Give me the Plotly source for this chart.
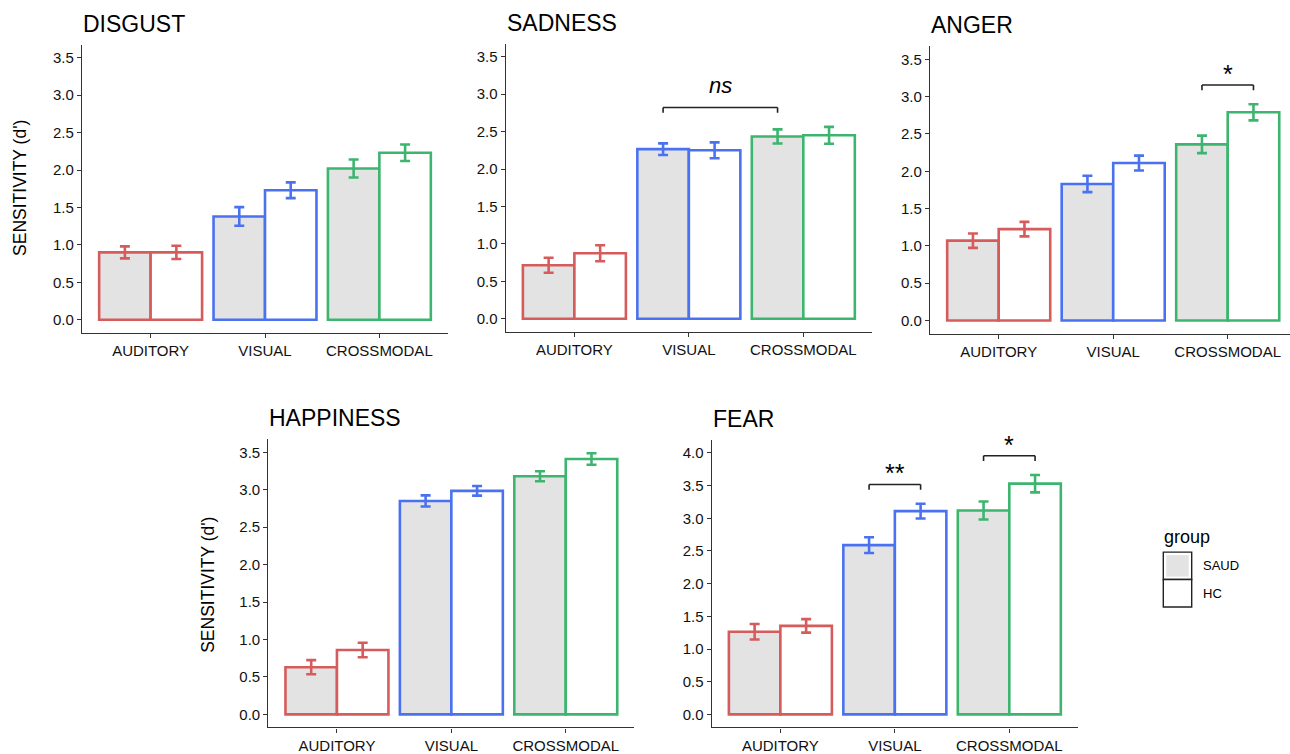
import plotly.graph_objects as go

# ---- data -------------------------------------------------------------
categories = ["AUDITORY", "VISUAL", "CROSSMODAL"]
groups = ["SAUD", "HC"]
emotions = ["DISGUST", "SADNESS", "ANGER", "HAPPINESS", "FEAR"]

disgust_saud = [0.90, 1.38, 2.02]
disgust_saud_se = [0.080, 0.125, 0.120]
disgust_hc = [0.90, 1.73, 2.23]
disgust_hc_se = [0.088, 0.105, 0.110]

sadness_saud = [0.715, 2.265, 2.435]
sadness_saud_se = [0.100, 0.078, 0.095]
sadness_hc = [0.875, 2.250, 2.450]
sadness_hc_se = [0.106, 0.106, 0.113]

anger_saud = [1.07, 1.83, 2.36]
anger_saud_se = [0.097, 0.110, 0.117]
anger_hc = [1.225, 2.11, 2.79]
anger_hc_se = [0.097, 0.100, 0.108]

happiness_saud = [0.63, 2.85, 3.18]
happiness_saud_se = [0.095, 0.075, 0.066]
happiness_hc = [0.86, 2.985, 3.41]
happiness_hc_se = [0.097, 0.064, 0.077]

fear_saud = [1.265, 2.59, 3.12]
fear_saud_se = [0.118, 0.121, 0.138]
fear_hc = [1.355, 3.11, 3.53]
fear_hc_se = [0.103, 0.113, 0.133]

y_max = [3.5, 3.5, 3.5, 3.5, 4.0]

# significance comparisons: (emotion, (category, group), (category, group), label)
comparisons = [
    ("SADNESS", ("VISUAL", "SAUD"), ("CROSSMODAL", "SAUD"), "ns"),
    ("ANGER", ("CROSSMODAL", "SAUD"), ("CROSSMODAL", "HC"), "*"),
    ("FEAR", ("VISUAL", "SAUD"), ("VISUAL", "HC"), "**"),
    ("FEAR", ("CROSSMODAL", "SAUD"), ("CROSSMODAL", "HC"), "*"),
]

values = {
    "DISGUST": {"SAUD": (disgust_saud, disgust_saud_se), "HC": (disgust_hc, disgust_hc_se)},
    "SADNESS": {"SAUD": (sadness_saud, sadness_saud_se), "HC": (sadness_hc, sadness_hc_se)},
    "ANGER": {"SAUD": (anger_saud, anger_saud_se), "HC": (anger_hc, anger_hc_se)},
    "HAPPINESS": {"SAUD": (happiness_saud, happiness_saud_se), "HC": (happiness_hc, happiness_hc_se)},
    "FEAR": {"SAUD": (fear_saud, fear_saud_se), "HC": (fear_hc, fear_hc_se)},
}

# ---- styling / layout -------------------------------------------------
W, H = 1290, 754
FONT = "Liberation Sans, Arial, sans-serif"
cat_colors = {"AUDITORY": "#D65C5C", "VISUAL": "#4A72F0", "CROSSMODAL": "#3DB56F"}
group_fill = {"SAUD": "#E3E3E3", "HC": "#FFFFFF"}
AXIS_COL = "#333333"
BARGAP = 0.1

# plot boxes in pixels: (left, top, right, bottom), x range right end
panel_box = {
    "DISGUST": ((82, 45, 448, 336), 2.6),
    "SADNESS": ((505.7, 44, 872, 335), 2.6),
    "ANGER": ((930, 46.7, 1290, 336.7), 2.544),
    "HAPPINESS": ((268.3, 443.3, 634.4, 734.3), 2.6),
    "FEAR": ((711.7, 444, 1078, 734.3), 2.6),
}
ytitle_pos = {"DISGUST": (20.7, 190), "HAPPINESS": (207.3, 590)}


def fx(p):
    return p / W


def fy(p):
    return 1 - p / H


fig = go.Figure()
layout = dict(
    width=W, height=H, margin=dict(l=0, r=0, t=0, b=0),
    paper_bgcolor="white", plot_bgcolor="white",
    barmode="group", bargap=BARGAP, bargroupgap=0,
    showlegend=False, font=dict(family=FONT, color="#111111"),
)
annotations = []
shapes = []

half = (1 - BARGAP) / 4  # distance from category centre to each bar centre

for i, emo in enumerate(emotions):
    n = "" if i == 0 else str(i + 1)
    xa, ya = "x" + n, "y" + n
    (l, t, r, b), xr = panel_box[emo]
    top = y_max[i]
    for g in groups:
        means, ses = values[emo][g]
        for c, m, s in zip(categories, means, ses):
            fig.add_trace(go.Bar(
                x=[c], y=[m], xaxis=xa, yaxis=ya, offsetgroup=g, name=g,
                marker=dict(color=group_fill[g], line=dict(color=cat_colors[c], width=2.6)),
                error_y=dict(type="data", array=[s], color=cat_colors[c], thickness=2.6, width=5),
                hoverinfo="skip",
            ))
    layout["xaxis" + n] = dict(
        domain=[fx(l), fx(r)], anchor=ya, type="category", categoryorder="array",
        categoryarray=categories, range=[-0.6, xr], showline=True, linecolor=AXIS_COL,
        linewidth=1.2, ticks="outside", ticklen=4, tickcolor=AXIS_COL, tickwidth=1,
        showgrid=False, zeroline=False, tickfont=dict(size=15, color="#111111", family=FONT),
    )
    layout["yaxis" + n] = dict(
        domain=[fy(b), fy(t)], anchor=xa, range=[-0.05 * top, 1.05 * top],
        tick0=0, dtick=0.5, tickformat=".1f", showline=True, linecolor=AXIS_COL,
        linewidth=1.2, ticks="outside", ticklen=4, tickcolor=AXIS_COL, tickwidth=1,
        showgrid=False, zeroline=False, tickfont=dict(size=15, color="#111111", family=FONT),
    )
    # panel title
    annotations.append(dict(
        text=emo, x=fx(l - 1), y=fy(t - 21), xref="paper", yref="paper",
        xanchor="left", yanchor="middle", showarrow=False,
        font=dict(size=23, color="black", family=FONT),
    ))
    if emo in ytitle_pos:
        px, py = ytitle_pos[emo]
        annotations.append(dict(
            text="SENSITIVITY (d')", x=fx(px), y=fy(py), xref="paper", yref="paper",
            textangle=-90, showarrow=False, xanchor="center", yanchor="middle",
            font=dict(size=17.5, color="black", family=FONT),
        ))

# significance brackets
for emo, (c0, g0), (c1, g1), label in comparisons:
    i = emotions.index(emo)
    n = "" if i == 0 else str(i + 1)
    span = 1.1 * y_max[i]
    k0, k1 = categories.index(c0), categories.index(c1)
    x0 = k0 + (-half if g0 == "SAUD" else half)
    x1 = k1 + (-half if g1 == "SAUD" else half)
    tops = []
    for g in groups:
        means, ses = values[emo][g]
        tops += [means[k] + ses[k] for k in range(k0, k1 + 1)]
    yb = max(tops) + 0.067 * span
    leg = 0.018 * span
    for (ax0, ay0, ax1, ay1) in [(x0, yb - leg, x0, yb), (x0, yb, x1, yb), (x1, yb, x1, yb - leg)]:
        shapes.append(dict(type="line", xref="x" + n, yref="y" + n, x0=ax0, y0=ay0,
                           x1=ax1, y1=ay1, line=dict(color="#222222", width=1.6)))
    is_ns = label == "ns"
    annotations.append(dict(
        text="<i>ns</i>" if is_ns else label, x=(x0 + x1) / 2, y=yb,
        xref="x" + n, yref="y" + n, xanchor="center", yanchor="bottom",
        yshift=8 if is_ns else -5, showarrow=False,
        font=dict(size=22 if is_ns else 25, color="black", family=FONT),
    ))

# legend: stacked key boxes for each group
lg_x0, lg_x1 = 1163.3, 1191.7
lg_rows = [(557.3, 585.0), (585.0, 612.7)]
annotations.append(dict(
    text="group", x=fx(1162), y=fy(542), xref="paper", yref="paper",
    xanchor="left", yanchor="middle", showarrow=False,
    font=dict(size=18, color="black", family=FONT),
))
for g, (ty, by) in zip(groups, lg_rows):
    shapes.append(dict(type="rect", xref="paper", yref="paper",
                       x0=fx(lg_x0), x1=fx(lg_x1), y0=fy(by), y1=fy(ty),
                       fillcolor="white", line=dict(color="#222222", width=1.4)))
    shapes.append(dict(type="rect", xref="paper", yref="paper",
                       x0=fx(lg_x0 + 3), x1=fx(lg_x1 - 3), y0=fy(by - 3), y1=fy(ty + 3),
                       fillcolor=group_fill[g], line=dict(width=0)))
    annotations.append(dict(
        text=g, x=fx(1201), y=fy((ty + by) / 2), xref="paper", yref="paper",
        xanchor="left", yanchor="middle", showarrow=False,
        font=dict(size=13, color="black", family=FONT),
    ))

layout["annotations"] = annotations
layout["shapes"] = shapes
fig.update_layout(**layout)
fig.write_html("out.html")
